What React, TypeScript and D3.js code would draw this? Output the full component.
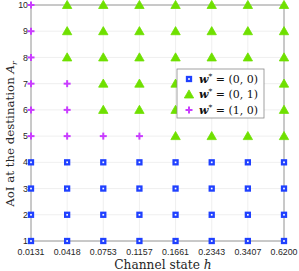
import React from 'react';
import * as d3 from 'd3';

const channelStates = ['0.0131', '0.0418', '0.0753', '0.1157', '0.1661', '0.2343', '0.3407', '0.6200'];
const aoiLevels = [1, 2, 3, 4, 5, 6, 7, 8, 9, 10];
// policy per column, listed from AoI = 1 up to AoI = 10 (0: (0,0), 1: (0,1), 2: (1,0))
const policyCol0 = [0, 0, 0, 0, 2, 2, 2, 2, 2, 2];
const policyCol1 = [0, 0, 0, 0, 2, 2, 2, 1, 1, 1];
const policyCol2 = [0, 0, 0, 0, 2, 1, 1, 1, 1, 1];
const policyCol3 = [0, 0, 0, 0, 2, 1, 1, 1, 1, 1];
const policyCol4 = [0, 0, 0, 0, 1, 1, 1, 1, 1, 1];
const policyCol5 = [0, 0, 0, 0, 1, 1, 1, 1, 1, 1];
const policyCol6 = [0, 0, 0, 0, 1, 1, 1, 1, 1, 1];
const policyCol7 = [0, 0, 0, 0, 1, 1, 1, 1, 1, 1];
const policies = [policyCol0, policyCol1, policyCol2, policyCol3, policyCol4, policyCol5, policyCol6, policyCol7];
const legendLabels = ['(0, 0)', '(0, 1)', '(1, 0)'];

const colors = ['#1f40ff', '#6fe000', '#c93cff'];

const W = 299;
const H = 271;
const margin = { left: 31, right: 15, top: 5, bottom: 30 };
const serif = 'DejaVu Serif, Liberation Serif, serif';

function Marker({ kind, x, y }: { kind: number; x: number; y: number }) {
  if (kind === 0) {
    return (
      <rect x={x - 2} y={y - 2} width={4} height={4} fill="#fff"
        stroke={colors[0]} strokeWidth={2.3} />
    );
  }
  if (kind === 1) {
    const tri = d3.symbol().type(d3.symbolTriangle).size(38)();
    return (
      <path d={tri || ''} transform={`translate(${x},${y + 0.8})`} fill={colors[1]}
        stroke={colors[1]} strokeWidth={0.8} />
    );
  }
  return (
    <g stroke={colors[2]} strokeWidth={2}>
      <line x1={x - 3.5} x2={x + 3.5} y1={y} y2={y} />
      <line x1={x} x2={x} y1={y - 3.5} y2={y + 3.5} />
    </g>
  );
}

export default function App() {
  const x = d3.scalePoint<string>()
    .domain(channelStates)
    .range([margin.left, W - margin.right]);
  const y = d3.scaleLinear()
    .domain([1, 10])
    .range([H - margin.bottom, margin.top]);

  const x0 = margin.left;
  const x1 = W - margin.right;
  const y0 = H - margin.bottom;
  const y1 = margin.top;

  const lx = 177;
  const ly = 69;

  return (
    <svg width={W} height={H} style={{ position: 'absolute', left: 0, top: 0, background: '#fff' }}>
      {/* grid */}
      <g stroke="#ebebeb" strokeWidth={0.8}>
        {channelStates.map(c => (
          <line key={c} x1={x(c)} x2={x(c)} y1={y1} y2={y0} />
        ))}
        {aoiLevels.map(a => (
          <line key={a} x1={x0} x2={x1} y1={y(a)} y2={y(a)} />
        ))}
      </g>
      {/* frame */}
      <g stroke="#9a9a9a" strokeWidth={1} fill="none">
        <line x1={x0} x2={x1} y1={y1} y2={y1} />
        <line x1={x0} x2={x1} y1={y0} y2={y0} />
        <line x1={x0} x2={x0} y1={y1} y2={y0} />
        <line x1={x1} x2={x1} y1={y1} y2={y0} />
      </g>
      {/* tick labels */}
      <g fontFamily="Liberation Sans, Arial, sans-serif" fontSize={8.8} fill="#262626">
        {aoiLevels.map(a => (
          <text key={a} x={x0 - 3} y={y(a)} dy="0.35em" textAnchor="end">{a}</text>
        ))}
        {channelStates.map(c => (
          <text key={c} x={x(c)} y={y0 + 14} textAnchor="middle">{c}</text>
        ))}
      </g>
      {/* markers */}
      {policies.map((col, i) => col.map((p, j) => (
        <Marker key={`${i}-${j}`} kind={p} x={x(channelStates[i]) as number} y={y(aoiLevels[j])} />
      )))}
      {/* axis titles */}
      <text x={163} y={269} textAnchor="middle"
        fontFamily={serif} fontSize={12.2} fill="#262626">
        Channel state <tspan fontStyle="italic">h</tspan>
      </text>
      <text transform={`translate(14,${134}) rotate(-90)`} textAnchor="middle"
        fontFamily={serif} fontSize={11.8} fill="#262626">
        AoI at the destination <tspan fontStyle="italic">A</tspan>
        <tspan fontStyle="italic" fontSize={8} dy="3">r</tspan>
      </text>
      {/* legend */}
      <g>
        <rect x={lx} y={ly} width={87} height={49} fill="#fff" stroke="#8a8a8a" strokeWidth={0.8} />
        {legendLabels.map((l, i) => {
          const yy = ly + 10 + i * 15.5;
          return (
            <g key={l}>
              <Marker kind={i} x={lx + 12} y={yy} />
              <text x={lx + 22} y={yy} dy="0.35em" fontFamily={serif}
                fontSize={11} fill="#111">
                <tspan fontWeight="bold" fontStyle="italic">w</tspan>
                <tspan fontSize={7.5} dy="-4">*</tspan>
                <tspan dy="4"> = {l}</tspan>
              </text>
            </g>
          );
        })}
      </g>
    </svg>
  );
}
